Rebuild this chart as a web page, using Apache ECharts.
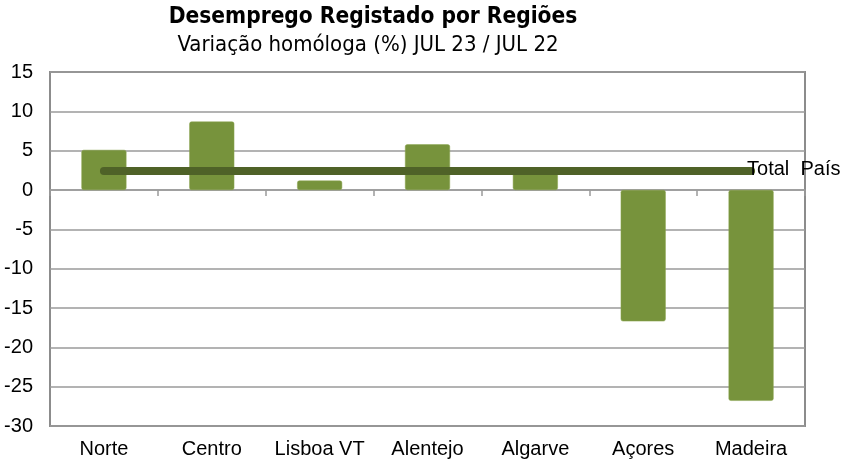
<!DOCTYPE html>
<html><head><meta charset="utf-8">
<script src="https://cdn.jsdelivr.net/npm/echarts@6/dist/echarts.min.js"></script>
<style>html,body{margin:0;padding:0;background:#fff}#c{width:850px;height:469px}</style>
</head><body><div id="c"></div>
<script>
const titleText = 'Desemprego Registado por Regiões';
const subtitleText = 'Variação homóloga (%) JUL 23 / JUL 22';
const categories = ['Norte', 'Centro', 'Lisboa VT', 'Alentejo', 'Algarve', 'Açores', 'Madeira'];
const regionValues = [5.1, 8.7, 1.2, 5.8, 2.5, -16.7, -26.8];
const totalPais = [2.4, 2.4, 2.4, 2.4, 2.4, 2.4, 2.4];
const totalLabel = 'Total  País';
const yTicks = { min: -30, max: 15, interval: 5 };

const chart = echarts.init(document.getElementById('c'), null, { renderer: 'canvas' });
chart.setOption({
  animation: false,
  backgroundColor: '#fff',
  title: [
    { text: titleText, left: 368, top: 1, textAlign: 'center',
      textStyle: { fontFamily: "'DejaVu Sans Condensed', Roboto, sans-serif", fontWeight: 'bold', fontSize: 22.5, color: '#000' } },
    { text: subtitleText, left: 363, top: 29, textAlign: 'center',
      textStyle: { fontFamily: "'DejaVu Sans Condensed', Roboto, sans-serif", fontWeight: 'normal', fontSize: 22, color: '#000' } }
  ],
  grid: { left: 50, right: 45, top: 72, bottom: 43, show: true, borderColor: '#8c8c8c', borderWidth: 2, containLabel: false },
  xAxis: [
    { type: 'category', data: categories, position: 'bottom',
      axisLine: { show: false, onZero: false }, axisTick: { show: false },
      axisLabel: { fontFamily: 'Liberation Sans, Arial', fontSize: 20, color: '#000', margin: 13, interval: 0 } },
    { type: 'category', data: categories, position: 'bottom',
      axisLine: { show: true, onZero: true, lineStyle: { color: '#9a9a9a', width: 1.5 } },
      axisTick: { show: true, inside: false, length: 6, interval: 0, lineStyle: { color: '#9a9a9a', width: 1.5 } },
      axisLabel: { show: false } }
  ],
  yAxis: {
    type: 'value', min: yTicks.min, max: yTicks.max, interval: yTicks.interval,
    axisLine: { show: false }, axisTick: { show: false },
    axisLabel: { fontFamily: 'Liberation Sans, Arial', fontSize: 20, color: '#000', margin: 17 },
    splitLine: { lineStyle: { color: '#9a9a9a', width: 1.5 } }
  },
  series: [
    { type: 'bar', data: regionValues, xAxisIndex: 0, barWidth: 45,
      itemStyle: { color: '#77933c', borderRadius: 2, borderColor: '#8aa54e', borderWidth: 0.5 } },
    { type: 'line', data: totalPais, xAxisIndex: 0, symbol: 'none', z: 5,
      lineStyle: { color: '#4f6228', width: 8, cap: 'round' },
      endLabel: { show: true, formatter: totalLabel, fontFamily: 'Liberation Sans, Arial', fontSize: 20, color: '#000', distance: -4, offset: [0, -2] } }
  ]
});
</script></body></html>
